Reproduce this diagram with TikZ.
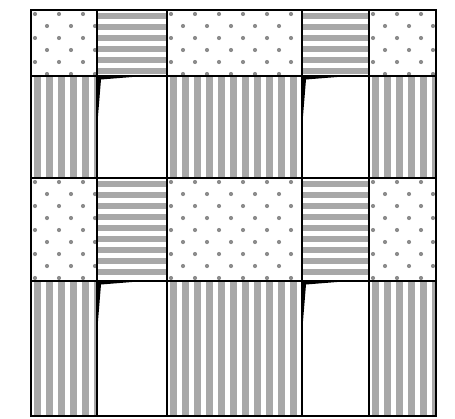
\documentclass[tikz,border=0pt]{standalone}
\begin{document}
\begin{tikzpicture}[x=1pt,y=-1pt]
\definecolor{stripe}{gray}{0.66}
\definecolor{dotc}{gray}{0.55}
\tikzset{cellborder/.style={draw=black,line width=2pt}}
\useasboundingbox (0,0) rectangle (455,418);
\fill[white] (0,0) rectangle (455,418);
% macros
\newcommand\myvstripes[4]{%
  \begin{scope}\clip (#1,#2) rectangle (#3,#4);
  \foreach \i in {0,...,12} {\fill[stripe] ({#1+3+\i*12},#2) rectangle ({#1+10+\i*12},#4);}
  \end{scope}}
\newcommand\myhstripes[4]{%
  \begin{scope}\clip (#1,#2) rectangle (#3,#4);
  \foreach \i in {0,...,12} {\fill[stripe] (#1,{#2+3+\i*11}) rectangle (#3,{#2+9+\i*11});}
  \end{scope}}
\newcommand\mydots[4]{%
  \begin{scope}\clip (#1,#2) rectangle (#3,#4);
  \foreach \i in {0,...,6} {\foreach \j in {0,...,9} {\fill[dotc] ({#1+4+\i*24+mod(\j,2)*12},{#2+4+\j*12}) circle (2.1);}}
  \end{scope}}
\newcommand\mywhite[4]{%
  \fill[black] (#1,#2) -- ({#1+35},{#2+1}) -- ({#1+4},{#2+3.5}) -- ({#1+1},{#2+40}) -- cycle;}
% rows: 10, 76, 178, 281, 416 ; cols: 31, 97, 167, 302, 369, 436
\foreach \ya/\yb in {10/76,178/281} {
  \mydots{31}{\ya}{97}{\yb}
  \myhstripes{97}{\ya}{167}{\yb}
  \mydots{167}{\ya}{302}{\yb}
  \myhstripes{302}{\ya}{369}{\yb}
  \mydots{369}{\ya}{436}{\yb}
}
\foreach \ya/\yb in {76/178,281/416} {
  \myvstripes{31}{\ya}{97}{\yb}
  \mywhite{97}{\ya}{167}{\yb}
  \myvstripes{167}{\ya}{302}{\yb}
  \mywhite{302}{\ya}{369}{\yb}
  \myvstripes{369}{\ya}{436}{\yb}
}
\foreach \ya/\yb in {10/76,76/178,178/281,281/416} {
  \foreach \xa/\xb in {31/97,97/167,167/302,302/369,369/436} {
    \draw[cellborder] (\xa,\ya) rectangle (\xb,\yb);
  }
}
\end{tikzpicture}
\end{document}
